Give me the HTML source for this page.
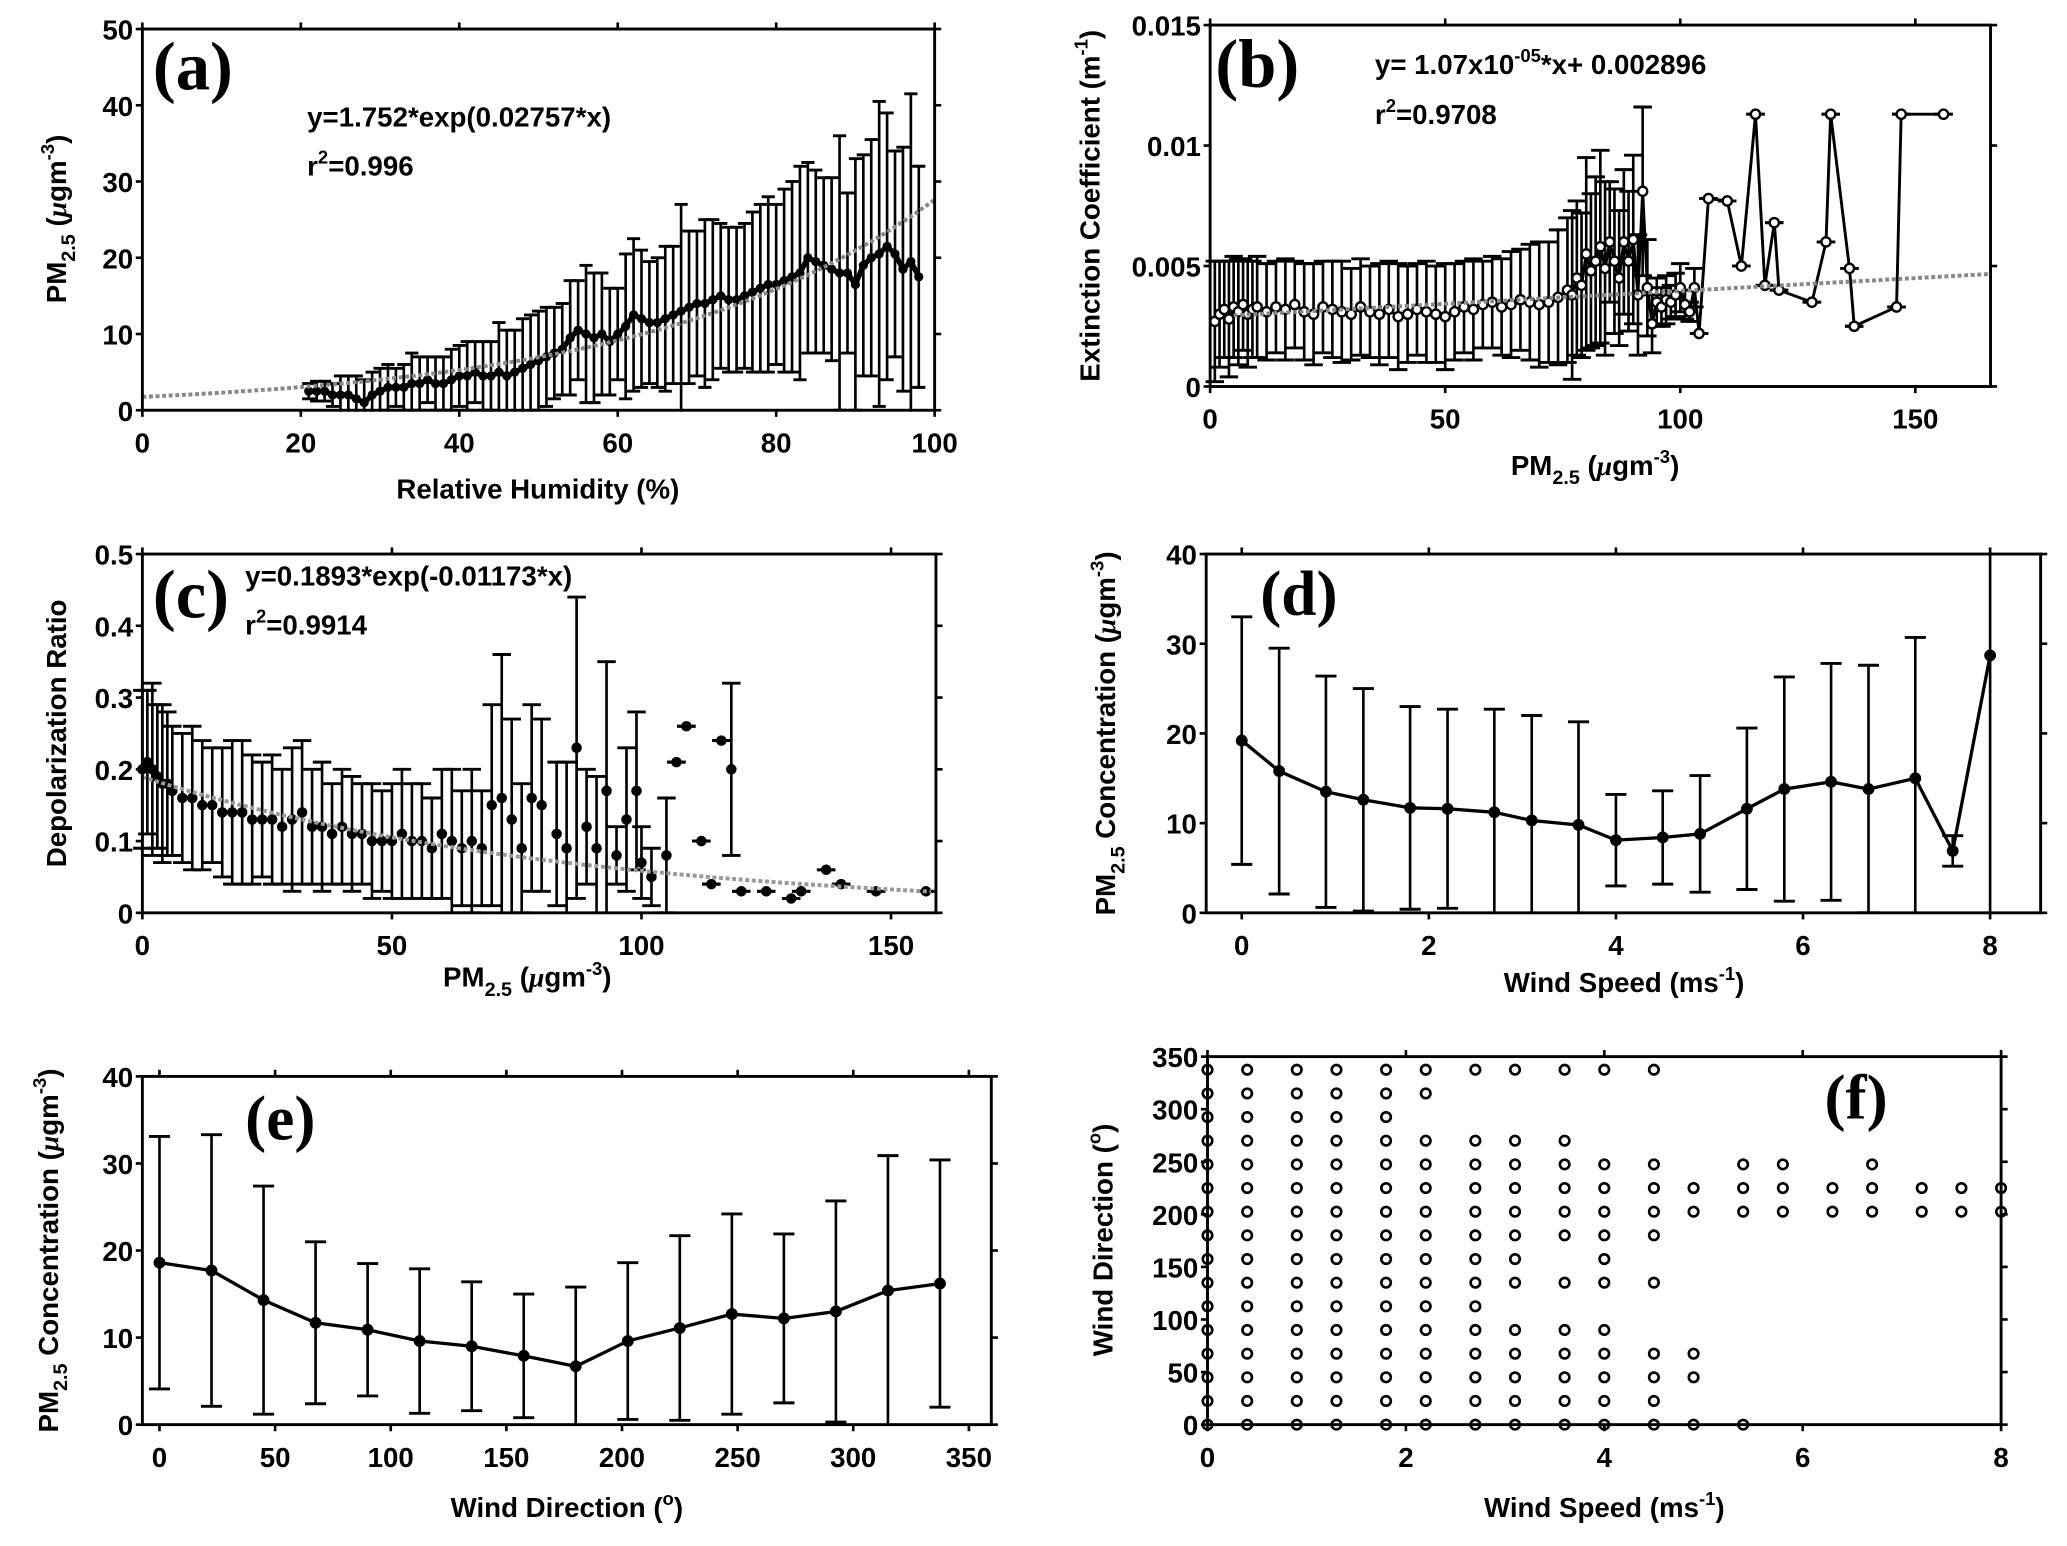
<!DOCTYPE html>
<html><head><meta charset="utf-8"><style>
html,body{margin:0;padding:0;background:#fff;}
svg{display:block;}
text{font-family:"Liberation Sans Narrow","Liberation Sans",sans-serif;font-weight:bold;fill:#000;}
.ser{font-family:"Liberation Serif",serif;}
</style></head>
<body>
<svg id="fig" width="2067" height="1546" viewBox="0 0 1568 1172" preserveAspectRatio="none" xmlns="http://www.w3.org/2000/svg"></svg>
<script>
// ---- panel (a) data ----
const aMean = [2.5,2.5,2.5,2,2,2,1.5,1,2,2.5,3,3,3,3.5,3.5,4,3.5,3.5,4,4.5,4.5,5,4.5,4.5,5,4.5,5,5.5,6,6.5,7,7.5,8,9.5,10.5,10,9.5,10,9,10,11,12.5,12,11.5,11.5,12,12.5,13,13.5,14,14,14.5,15,14.5,14.5,15,15.5,16,16.5,16.5,17,17.5,18,20,19.5,19,18.5,18,18,16.5,19,20,20.5,21.5,20.5,18.5,19.5,17.5];
const aUpper = [3.5,3.8,3.8,3.5,4.5,4.5,4.5,4,5,5.5,6,5.5,6,7.5,7,7,7,7,8,8.5,9,9,9,9,11.5,10.5,10.5,12,12.5,13,13.5,13.5,14,17,17,19,18,18,16,16,20.5,22.5,21,19.5,20,21.5,21.5,27,23.5,23.5,25,25,24.5,24,24,24.5,26,27,28,27,29,30,32,32.5,31.5,30.5,30.5,36,28.5,33,33.5,35.5,40.5,39,34,34.5,41.5,32];
const aRHStart = 21;
// ---- panel (b) data ----
const bX = [1,2,3,4,5,6,7,8,9,10,12,14,16,18,20,22,24,26,28,30,32,34,36,38,40,42,44,46,48,50,52,54,56,58,60,62,64,66,68,70,72,74,76,77,78,79,80,81,82,83,84,85,86,87,88,89,90,91,92,93,94,95,96,97,98,99,100,101,102,103,104,106,110,113,116,118,120,121,128,131,132,136,137,146,147,156];
const bY = [0.0027,0.003,0.0032,0.0028,0.0033,0.0031,0.0034,0.003,0.0032,0.0033,0.0031,0.0033,0.0032,0.0034,0.0031,0.003,0.0033,0.0032,0.0031,0.003,0.0033,0.0031,0.003,0.0032,0.0029,0.003,0.0032,0.0031,0.003,0.0029,0.0031,0.0033,0.0032,0.0034,0.0035,0.0033,0.0034,0.0036,0.0035,0.0034,0.0035,0.0037,0.004,0.0038,0.0045,0.0042,0.0055,0.0048,0.0052,0.0058,0.0049,0.006,0.0052,0.0045,0.006,0.0052,0.0061,0.0038,0.0081,0.0041,0.0026,0.0035,0.0033,0.0036,0.0035,0.0038,0.0041,0.0034,0.0031,0.0041,0.0022,0.0078,0.0077,0.005,0.0113,0.0042,0.0068,0.004,0.0035,0.006,0.0113,0.0049,0.0025,0.0033,0.0113,0.0113];
const bErr = [0.0025,0.0022,0.002,0.0024,0.0021,0.0022,0.0019,0.0022,0.002,0.0021,0.002,0.0019,0.0021,0.0018,0.002,0.0021,0.0019,0.002,0.0021,0.0019,0.002,0.0019,0.0021,0.002,0.0022,0.002,0.0019,0.0021,0.002,0.0022,0.002,0.0019,0.0021,0.0018,0.0019,0.002,0.0022,0.0021,0.0024,0.0026,0.0025,0.0028,0.003,0.0035,0.0032,0.003,0.004,0.0032,0.0035,0.004,0.0036,0.0025,0.003,0.0028,0.003,0.0029,0.0035,0.0025,0.0035,0.002,0.0012,0.001,0.0008,0.001,0.0007,0.0009,0.001,0.0006,0.0004,0.0008,0,0,0,0,0,0,0,0,0,0,0,0,0,0,0,0];
// ---- panel (c) data ----
const cX = [0,1,2,3,4,5,6,8,10,12,14,16,18,20,22,24,26,28,30,32,34,36,38,40,42,44,46,48,50,52,54,56,58,60,62,64,66,68,70,72,74,76,78,80,83,85,87,89,91,93,95,97,99,100,102,105,107,109,112,114,116,118,120,125,130,132,137,140,147,157];
const cY = [0.2,0.21,0.2,0.19,0.18,0.18,0.17,0.16,0.16,0.15,0.15,0.14,0.14,0.14,0.13,0.13,0.13,0.12,0.13,0.14,0.12,0.12,0.11,0.12,0.11,0.11,0.1,0.1,0.1,0.11,0.1,0.1,0.09,0.11,0.1,0.09,0.1,0.09,0.15,0.16,0.13,0.09,0.16,0.15,0.11,0.09,0.23,0.12,0.09,0.17,0.08,0.13,0.17,0.07,0.05,0.08,0.21,0.26,0.1,0.04,0.24,0.2,0.03,0.03,0.02,0.03,0.06,0.04,0.03,0.03];
const cErr = [0.11,0.1,0.12,0.1,0.11,0.1,0.09,0.09,0.1,0.09,0.08,0.09,0.1,0.1,0.09,0.08,0.09,0.08,0.1,0.1,0.08,0.09,0.07,0.08,0.08,0.07,0.08,0.07,0.08,0.09,0.08,0.08,0.07,0.09,0.1,0.08,0.1,0.08,0.14,0.2,0.14,0.09,0.13,0.12,0.1,0.12,0.21,0.08,0.1,0.18,0.04,0.1,0.11,0.05,0.04,0.08,0,0,0,0,0,0.12,0,0,0,0,0,0,0,0];
// ---- panel (d) data ----
const dSpeed = [0,0.4,0.9,1.3,1.8,2.2,2.7,3.1,3.6,4.0,4.5,4.9,5.4,5.8,6.3,6.7,7.2,7.6,8.0];
const dMean = [19.2,15.8,13.5,12.6,11.7,11.6,11.2,10.3,9.8,8.1,8.4,8.8,11.6,13.8,14.6,13.8,15,6.9,28.7];
const dUpper = [33,29.5,26.4,25,23,22.7,22.7,22,21.3,13.2,13.6,15.3,20.6,26.3,27.8,27.6,30.7,8.6,60];
// ---- panel (e) data ----
const eDir = [0,22.5,45,67.5,90,112.5,135,157.5,180,202.5,225,247.5,270,292.5,315,337.5];
const eMean = [18.6,17.7,14.3,11.7,10.9,9.6,9,7.9,6.7,9.6,11.1,12.7,12.2,13,15.4,16.2];
const eUpper = [33.1,33.3,27.4,21,18.5,17.9,16.4,15,15.8,18.6,21.7,24.2,21.9,25.7,30.9,30.4];
// ---- panel (f) data: speed indices present per direction ----
const fSpeeds = [0,0.4,0.9,1.3,1.8,2.2,2.7,3.1,3.6,4.0,4.5,4.9,5.4,5.8,6.3,6.7,7.2,7.6,8.0];
const fDirs = [0,22.5,45,67.5,90,112.5,135,157.5,180,202.5,225,247.5,270,292.5,315,337.5];
const fPresent = [
 [0,1,2,3,4,5,6,7,8,9,10,11,12],
 [0,1,2,3,4,5,6,7,8,9,10],
 [0,1,2,3,4,5,6,7,8,9,10,11],
 [0,1,2,3,4,5,6,7,8,9,10,11],
 [0,1,2,3,4,5,6,7,8,9],
 [0,1,2,3,4,5,6],
 [0,1,2,3,4,5,6,7,8,9,10],
 [0,1,2,3,4,5,6,7,9],
 [0,1,2,3,4,5,6,7,8,9,10],
 [0,1,2,3,4,5,6,7,8,9,10,11,12,13,14,15,16,17,18],
 [0,1,2,3,4,5,6,7,8,9,10,11,12,13,14,15,16,17,18],
 [0,1,2,3,4,5,6,7,8,9,10,12,13,15],
 [0,1,2,3,4,5,6,7,8],
 [0,1,2,3,4],
 [0,1,2,3,4,5],
 [0,1,2,3,4,5,6,7,8,9,10]
];

const NS = "http://www.w3.org/2000/svg";
const fig = document.getElementById('fig');
function mk(parent, tag, attrs, name) {
  const el = document.createElementNS(NS, tag);
  for (const k in attrs) el.setAttribute(k, attrs[k]);
  
  
  parent.appendChild(el);
  return el;
}
function panel(id, L, R, T, B, x0, x1, y0, y1) {
  const g = mk(fig, 'g', {}, 'panel-' + id);
  const sx = v => L + (v - x0) / (x1 - x0) * (R - L);
  const sy = v => B - (v - y0) / (y1 - y0) * (B - T);
  const cp = mk(g, 'clipPath', {id: 'clip-' + id}, 'clip-' + id);
  mk(cp, 'rect', {x: L - 8, y: T, width: R - L + 16, height: B - T + 1}, 'clip-rect');
  const plot = mk(g, 'g', {'clip-path': 'url(#clip-' + id + ')'}, 'plot-area-' + id);
  return {g, plot, sx, sy, L, R, T, B, id};
}
function axes(p, xt, yt, xfmt, yfmt) {
  const {g, sx, sy, L, R, T, B} = p;
  mk(g, 'rect', {x: L, y: T, width: R - L, height: B - T, fill: 'none', stroke: '#000', 'stroke-width': 2.2}, 'axes-frame');
  xt.forEach(v => {
    const x = sx(v);
    mk(g, 'line', {x1: x, x2: x, y1: B, y2: B + 5, stroke: '#000', 'stroke-width': 2}, 'x-tick');
    mk(g, 'line', {x1: x, x2: x, y1: T, y2: T - 5, stroke: '#000', 'stroke-width': 2}, 'x-tick-top');
    const t = mk(g, 'text', {x: x, y: B + 32, 'text-anchor': 'middle', 'font-size': 21}, 'x-tick-label');
    t.textContent = xfmt ? xfmt(v) : v;
  });
  yt.forEach(v => {
    const y = sy(v);
    mk(g, 'line', {x1: L, x2: L - 5, y1: y, y2: y, stroke: '#000', 'stroke-width': 2}, 'y-tick');
    mk(g, 'line', {x1: R, x2: R + 5, y1: y, y2: y, stroke: '#000', 'stroke-width': 2}, 'y-tick-right');
    const t = mk(g, 'text', {x: L - 7, y: y + 8, 'text-anchor': 'end', 'font-size': 21}, 'y-tick-label');
    t.textContent = yfmt ? yfmt(v) : v;
  });
}
function errbars(p, xs, ms, ups, los, cap, w) {
  for (let i = 0; i < xs.length; i++) {
    const x = p.sx(xs[i]);
    const yu = p.sy(ups[i]), yl = p.sy(los[i]);
    mk(p.plot, 'line', {x1: x, x2: x, y1: yu, y2: yl, stroke: '#000', 'stroke-width': w}, 'error-bar');
    if (yu >= p.T) mk(p.plot, 'line', {x1: x - cap, x2: x + cap, y1: yu, y2: yu, stroke: '#000', 'stroke-width': 2.2}, 'error-cap-upper');
    if (yl <= p.B) mk(p.plot, 'line', {x1: x - cap, x2: x + cap, y1: yl, y2: yl, stroke: '#000', 'stroke-width': 2.2}, 'error-cap-lower');
  }
}
function line(p, xs, ys, name, attrs) {
  const d = xs.map((v, i) => (i ? 'L' : 'M') + p.sx(v).toFixed(1) + ',' + p.sy(ys[i]).toFixed(1)).join('');
  mk(p.plot, 'path', Object.assign({d: d, fill: 'none', stroke: '#000', 'stroke-width': 2.2}, attrs || {}), name);
}
function dots(p, xs, ys, r, open, name) {
  xs.forEach((v, i) => mk(p.plot, 'circle', {cx: p.sx(v), cy: p.sy(ys[i]), r: r, fill: open ? '#fff' : '#000', stroke: '#000', 'stroke-width': open ? 1.8 : 1}, name));
}
function txt(parent, x, y, size, html, name, extra) {
  const t = mk(parent, 'text', Object.assign({x: x, y: y, 'font-size': size}, extra || {}), name);
  t.innerHTML = html;
  return t;
}
const PM = 'PM<tspan dy="7" font-size="15">2.5</tspan><tspan dy="-7"> (</tspan><tspan font-family="Liberation Serif" font-style="italic">μ</tspan>gm<tspan dy="-9" font-size="14">-3</tspan><tspan dy="9">)</tspan>';

// ===== (a) =====
const pa = panel('a', 108, 709, 22, 311, 0, 100, 0, 50);
const aX = aMean.map((m, i) => aRHStart + i);
errbars(pa, aX, aMean, aUpper, aMean.map((m, i) => 2 * m - aUpper[i]), 5, 2);
line(pa, aX, aMean, 'mean-line', {'stroke-width': 4});
dots(pa, aX, aMean, 3, false, 'mean-marker');
const aFx = [], aFy = [];
for (let x = 0; x <= 100; x += 2) { aFx.push(x); aFy.push(1.752 * Math.exp(0.02757 * x)); }
line(pa, aFx, aFy, 'fit-line', {stroke: '#888', 'stroke-dasharray': '3,2', 'stroke-width': 3});
axes(pa, [0,20,40,60,80,100], [0,10,20,30,40,50]);
txt(pa.g, 116, 68, 52, '(a)', 'panel-label', {class: 'ser'});
txt(pa.g, 233, 96, 21, 'y=1.752*exp(0.02757*x)', 'fit-equation');
txt(pa.g, 233, 133, 21, 'r<tspan dy="-9" font-size="14">2</tspan><tspan dy="9">=0.996</tspan>', 'r-squared');
txt(pa.g, 408, 378, 21, 'Relative Humidity (%)', 'x-axis-title', {'text-anchor': 'middle'});
txt(pa.g, 0, 0, 21, PM, 'y-axis-title', {'text-anchor': 'middle', transform: 'translate(50,166) rotate(-90)'});

// ===== (b) =====
const pb = panel('b', 918, 1510, 19, 293, 0, 166, 0, 0.015);
errbars(pb, bX, bY, bY.map((v, i) => v + bErr[i]), bY.map((v, i) => v - bErr[i]), 7, 2);
line(pb, bX, bY, 'mean-line');
dots(pb, bX, bY, 3.5, true, 'mean-marker');
line(pb, [5, 166], [1.07e-5 * 5 + 0.002896, 1.07e-5 * 166 + 0.002896], 'fit-line', {stroke: '#888', 'stroke-dasharray': '3,2', 'stroke-width': 3});
axes(pb, [0,50,100,150], [0,0.005,0.01,0.015], null, v => v === 0 ? '0' : String(v));
txt(pb.g, 922, 66, 52, '(b)', 'panel-label', {class: 'ser'});
txt(pb.g, 1043, 56, 21, 'y= 1.07x10<tspan dy="-9" font-size="14">-05</tspan><tspan dy="9">*x+ 0.002896</tspan>', 'fit-equation');
txt(pb.g, 1043, 94, 21, 'r<tspan dy="-9" font-size="14">2</tspan><tspan dy="9">=0.9708</tspan>', 'r-squared');
txt(pb.g, 1210, 360, 21, PM, 'x-axis-title', {'text-anchor': 'middle'});
txt(pb.g, 0, 0, 21, 'Extinction Coefficient (m<tspan dy="-9" font-size="14">-1</tspan><tspan dy="9">)</tspan>', 'y-axis-title', {'text-anchor': 'middle', transform: 'translate(834,156) rotate(-90)'});

// ===== (c) =====
const pc = panel('c', 108, 710, 420, 692, 0, 159, 0, 0.5);
errbars(pc, cX, cY, cY.map((v, i) => v + cErr[i]), cY.map((v, i) => v - cErr[i]), 7, 2);
dots(pc, cX, cY, 3.5, false, 'mean-marker');
const cFx = [], cFy = [];
for (let x = 0; x <= 158; x += 2) { cFx.push(x); cFy.push(0.1893 * Math.exp(-0.01173 * x)); }
line(pc, cFx, cFy, 'fit-line', {stroke: '#999', 'stroke-dasharray': '3,2', 'stroke-width': 3});
axes(pc, [0,50,100,150], [0,0.1,0.2,0.3,0.4,0.5]);
txt(pc.g, 116, 468, 52, '(c)', 'panel-label', {class: 'ser'});
txt(pc.g, 186, 444, 21, 'y=0.1893*exp(-0.01173*x)', 'fit-equation');
txt(pc.g, 186, 481, 21, 'r<tspan dy="-9" font-size="14">2</tspan><tspan dy="9">=0.9914</tspan>', 'r-squared');
txt(pc.g, 400, 748, 21, PM, 'x-axis-title', {'text-anchor': 'middle'});
txt(pc.g, 0, 0, 21, 'Depolarization Ratio', 'y-axis-title', {'text-anchor': 'middle', transform: 'translate(50,556) rotate(-90)'});

// ===== (d) =====
const pd = panel('d', 915, 1548, 420, 692, -0.38, 8.54, 0, 40);
errbars(pd, dSpeed, dMean, dUpper, dMean.map((m, i) => 2 * m - dUpper[i]), 8, 2);
line(pd, dSpeed, dMean, 'mean-line', {'stroke-width': 2.5});
dots(pd, dSpeed, dMean, 4, false, 'mean-marker');
axes(pd, [0,2,4,6,8], [0,10,20,30,40]);
txt(pd.g, 956, 466, 48, '(d)', 'panel-label', {class: 'ser', 'font-weight': 'normal'});
txt(pd.g, 1232, 752, 21, 'Wind Speed (ms<tspan dy="-9" font-size="14">-1</tspan><tspan dy="9">)</tspan>', 'x-axis-title', {'text-anchor': 'middle'});
txt(pd.g, 0, 0, 21, 'PM<tspan dy="7" font-size="15">2.5</tspan><tspan dy="-7"> Concentration (</tspan><tspan font-family="Liberation Serif" font-style="italic">μ</tspan>gm<tspan dy="-9" font-size="14">-3</tspan><tspan dy="9">)</tspan>', 'y-axis-title', {'text-anchor': 'middle', transform: 'translate(846,556) rotate(-90)'});

// ===== (e) =====
const pe = panel('e', 108, 752, 816, 1080, -7.4, 359.7, 0, 40);
errbars(pe, eDir, eMean, eUpper, eMean.map((m, i) => 2 * m - eUpper[i]), 8, 2);
line(pe, eDir, eMean, 'mean-line', {'stroke-width': 2.5});
dots(pe, eDir, eMean, 4, false, 'mean-marker');
axes(pe, [0,50,100,150,200,250,300,350], [0,10,20,30,40]);
txt(pe.g, 186, 864, 48, '(e)', 'panel-label', {class: 'ser', 'font-weight': 'normal'});
txt(pe.g, 430, 1150, 21, 'Wind Direction (<tspan dy="-9" font-size="14">o</tspan><tspan dy="9">)</tspan>', 'x-axis-title', {'text-anchor': 'middle'});
txt(pe.g, 0, 0, 21, 'PM<tspan dy="7" font-size="15">2.5</tspan><tspan dy="-7"> Concentration (</tspan><tspan font-family="Liberation Serif" font-style="italic">μ</tspan>gm<tspan dy="-9" font-size="14">-3</tspan><tspan dy="9">)</tspan>', 'y-axis-title', {'text-anchor': 'middle', transform: 'translate(44,948) rotate(-90)'});

// ===== (f) =====
const pf = panel('f', 916, 1518, 801, 1080, 0, 8, 0, 350);
fPresent.forEach((row, di) => {
  row.forEach(si => {
    mk(pf.g, 'circle', {cx: pf.sx(fSpeeds[si]), cy: pf.sy(fDirs[di]), r: 3.6, fill: '#fff', stroke: '#000', 'stroke-width': 2}, 'observation-marker');
  });
});
axes(pf, [0,2,4,6,8], [0,50,100,150,200,250,300,350]);
txt(pf.g, 1384, 848, 48, '(f)', 'panel-label', {class: 'ser', 'font-weight': 'normal'});
txt(pf.g, 1217, 1150, 21, 'Wind Speed (ms<tspan dy="-9" font-size="14">-1</tspan><tspan dy="9">)</tspan>', 'x-axis-title', {'text-anchor': 'middle'});
txt(pf.g, 0, 0, 21, 'Wind Direction (<tspan dy="-9" font-size="14">o</tspan><tspan dy="9">)</tspan>', 'y-axis-title', {'text-anchor': 'middle', transform: 'translate(844,940) rotate(-90)'});
</script>
</body></html>
